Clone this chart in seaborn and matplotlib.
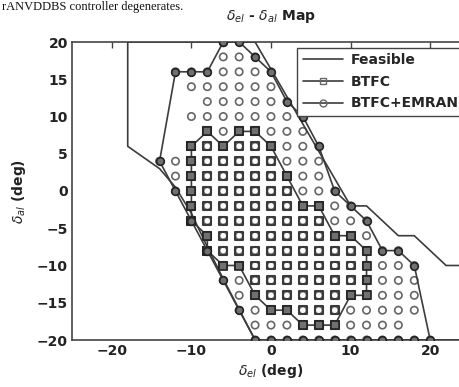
import numpy as np
import pandas as pd
import seaborn as sns
import matplotlib.pyplot as plt
from matplotlib.lines import Line2D

# Feasible region outline (deg)
feas_x = [25, 22, 18, 16, 12, 10, -2, -18, -18, -14, -12, -10, -8, -6, -2, 25]
feas_y = [-10, -10, -6, -6, -2, -2, 20, 20, 6, 3, 0.5, -3, -7.5, -11.8, -20, -20]

# BTFC boundary
btfc_x = [-10, -8, -6, -4, -2, 0, 2, 4, 6, 8, 10, 12, 12, 12, 12, 10, 8, 6, 4, 2, 0, -2,
          -4, -6, -8, -8, -10, -10, -10, -10, -10, -10]
btfc_y = [6, 8, 6, 8, 8, 6, 2, -2, -2, -6, -6, -8, -10, -12, -14, -14, -18, -18, -18, -16, -16, -14,
          -10, -10, -8, -6, -4, -2, 0, 2, 4, 6]

# BTFC+EMRAN boundary
emran_x = [-6, -4, -2, 0, 2, 4, 6, 8, 10, 12, 14, 16, 18, 20,
           18, 16, 14, 12, 10, 8, 6, 4, 2, 0, -2,
           -4, -6, -8, -10, -12, -14, -12, -10, -8, -6]
emran_y = [20, 20, 18, 16, 12, 10, 6, 0, -2, -4, -8, -8, -10, -20,
           -20, -20, -20, -20, -20, -20, -20, -20, -20, -20, -20,
           -16, -12, -8, -4, 0, 4, 16, 16, 16, 20]

# grid rows covered by each controller: (y, x_min, x_max), step 2 deg
emran_rows = [(20, -6, -4), (18, -6, -2), (16, -12, 0), (14, -10, 0), (12, -8, 2),
              (10, -10, 4), (8, -8, 4), (6, -10, 6), (4, -14, 6), (2, -12, 6),
              (0, -12, 8), (-2, -10, 10), (-4, -10, 12), (-6, -8, 12), (-8, -8, 16),
              (-10, -6, 18), (-12, -6, 18), (-14, -4, 18), (-16, -4, 18),
              (-18, -2, 16), (-20, -2, 20)]
btfc_rows = [(8, -8, -2), (6, -10, 0), (4, -10, 0), (2, -10, 2), (0, -10, 2),
             (-2, -10, 6), (-4, -10, 6), (-6, -8, 10), (-8, -8, 12), (-10, -6, 12),
             (-12, -2, 12), (-14, -2, 12), (-16, 0, 8), (-18, 4, 8)]
btfc_gaps = [(-6, 8)]


def grid_points(rows, gaps=()):
    pts = [(x, y) for y, x0, x1 in rows for x in range(x0, x1 + 1, 2) if (x, y) not in gaps]
    return pd.DataFrame(pts, columns=['x', 'y'])


emran_pts = grid_points(emran_rows)
btfc_pts = grid_points(btfc_rows, btfc_gaps)

sns.set_style('white')
plt.rcParams['font.family'] = ['DejaVu Sans']

fig = plt.figure(figsize=(4.6, 3.87), dpi=100)
ax = fig.add_axes([72 / 460, 1 - 340 / 387, 398 / 460, 298 / 387])

line_c = '#3c3c3c'
mk_c = '#666666'

sns.scatterplot(data=emran_pts, x='x', y='y', marker='o', s=28, facecolor='none',
                edgecolor=mk_c, linewidth=1.2, ax=ax, zorder=2)
sns.scatterplot(data=btfc_pts, x='x', y='y', marker='s', s=32, facecolor='none',
                edgecolor='#3a3a3a', linewidth=1.5, ax=ax, zorder=2)

sns.lineplot(x=feas_x, y=feas_y, sort=False, estimator=None, color=line_c, lw=1.2, ax=ax, zorder=3)
sns.lineplot(x=btfc_x, y=btfc_y, sort=False, estimator=None, color=line_c, lw=1.2,
             marker='s', markersize=5.5, markerfacecolor='#707070', markeredgecolor='#222222',
             markeredgewidth=1.2, ax=ax, zorder=4)
sns.lineplot(x=emran_x, y=emran_y, sort=False, estimator=None, color=line_c, lw=1.2,
             marker='o', markersize=5.5, markerfacecolor='#707070', markeredgecolor='#222222',
             markeredgewidth=1.2, ax=ax, zorder=4)

ax.set_xlim(-25, 25)
ax.set_ylim(-20, 20)
ax.set_xticks([-20, -10, 0, 10, 20])
ax.set_yticks([-20, -15, -10, -5, 0, 5, 10, 15, 20])
ax.tick_params(direction='in', length=4, width=1, color='#444444', top=True, right=True,
               labelsize=10, pad=3)
for lab in ax.get_xticklabels() + ax.get_yticklabels():
    lab.set_fontweight('bold')
    lab.set_color('#222222')
for sp in ax.spines.values():
    sp.set_color('#444444')
    sp.set_linewidth(1.2)

ax.set_title(r'$\delta_{el}$ - $\delta_{al}$ Map', fontsize=10, fontweight='bold', pad=16, color='#222222')
ax.set_xlabel(r'$\delta_{el}$ (deg)', fontsize=10, fontweight='bold', labelpad=3, color='#222222')
ax.set_ylabel(r'$\delta_{al}$ (deg)', fontsize=10, fontweight='bold', labelpad=6, color='#222222')

handles = [
    Line2D([], [], color=line_c, lw=1.2),
    Line2D([], [], color=line_c, lw=1.2, marker='s', markersize=5, markerfacecolor='none',
           markeredgecolor=mk_c),
    Line2D([], [], color=line_c, lw=1.2, marker='o', markersize=5, markerfacecolor='none',
           markeredgecolor=mk_c),
]
leg = ax.legend(handles, ['Feasible', 'BTFC', 'BTFC+EMRAN'], loc='upper right',
                fancybox=False, framealpha=1, edgecolor='#444444', borderaxespad=0.4,
                handlelength=2.9, handletextpad=0.55, borderpad=0.4,
                prop={'weight': 'bold', 'size': 10}, labelspacing=0.55)
leg.get_frame().set_linewidth(1.0)
leg.set_zorder(5)

# caption line from the page above the figure
fig.text(0.005, 1 - 1 / 387, 'rANVDDBS controller degenerates.', fontsize=9,
         family='Liberation Serif', va='top', ha='left', color='#111111')

fig.savefig('out.png', dpi=100)
